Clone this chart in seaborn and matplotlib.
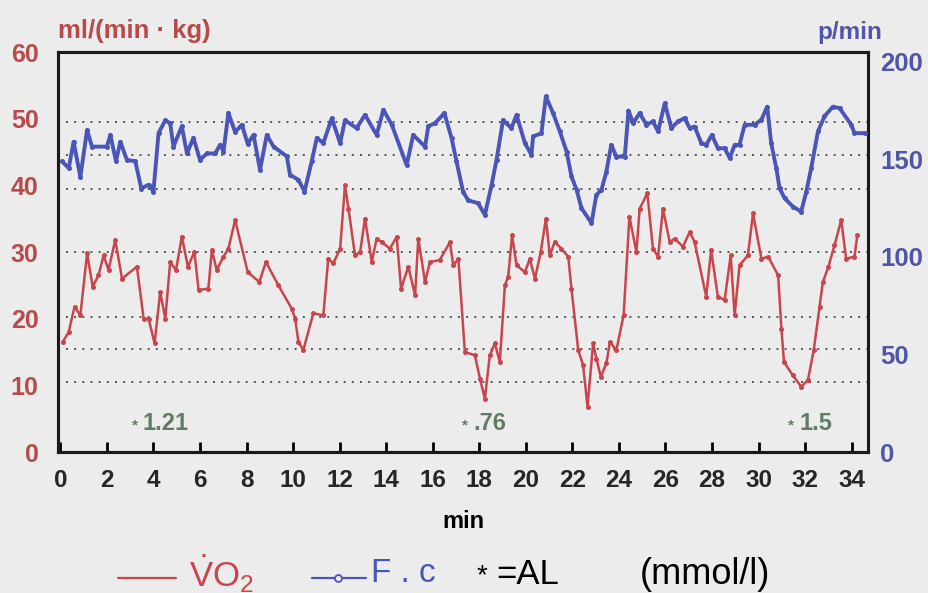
import matplotlib
matplotlib.use("Agg")
import matplotlib.pyplot as plt
import seaborn as sns
from matplotlib.lines import Line2D

# ---------------- data ----------------
vo2_min = [0.1, 0.36, 0.61, 0.86, 1.15, 1.39, 1.64, 1.86, 2.07, 2.36, 2.65, 3.29, 3.58, 3.79,
           4.05, 4.29, 4.51, 4.72, 4.97, 5.22, 5.48, 5.76, 5.94, 6.36, 6.51, 6.72, 7.01, 7.22,
           7.51, 8.05, 8.55, 8.83, 9.37, 9.94, 10.09, 10.23, 10.44, 10.87, 11.3, 11.51, 11.73,
           12.02, 12.23, 12.38, 12.66, 12.88, 13.09, 13.38, 13.59, 13.81, 14.16, 14.45, 14.64,
           14.95, 15.24, 15.38, 15.67, 15.88, 16.3, 16.74, 16.88, 17.1, 17.38, 17.81, 18.03,
           18.24, 18.45, 18.67, 18.88, 19.1, 19.24, 19.41, 19.6, 19.96, 20.17, 20.39, 20.64,
           20.86, 21.03, 21.24, 21.53, 21.82, 21.96, 22.25, 22.46, 22.65, 22.89, 23.03, 23.22,
           23.46, 23.61, 23.89, 24.2, 24.45, 24.75, 24.89, 25.22, 25.46, 25.68, 25.89, 26.18,
           26.39, 26.75, 27.04, 27.25, 27.75, 27.96, 28.25, 28.54, 28.8, 28.97, 29.18, 29.54,
           29.76, 30.12, 30.41, 30.84, 30.98, 31.09, 31.47, 31.83, 32.12, 32.37, 32.62, 32.76,
           33.0, 33.26, 33.55, 33.76, 34.12, 34.24]
vo2_val = [16.5, 18, 21.8, 20.5, 29.8, 24.8, 26.5, 29.5, 27.3, 31.8, 26, 27.8, 20, 20,
           16.3, 24, 20, 28.5, 27.3, 32.3, 27.8, 30, 24.3, 24.5, 30.3, 27.3, 29.3, 30.5,
           34.8, 27, 25.5, 28.5, 25, 21.5, 20, 16.5, 15.3, 20.8, 20.5, 29, 28.3,
           30.5, 40, 36.5, 29.5, 30, 35, 28.5, 32, 31.5, 30.5, 32.3, 24.5,
           27.8, 23.5, 32, 25.5, 28.5, 28.8, 31.5, 28, 29, 15, 14.5, 11,
           8, 14.5, 16.3, 13.5, 25, 26.3, 32.5, 28, 27, 29, 26, 30,
           35, 29.5, 31.5, 30.5, 29.3, 24.5, 15.3, 13, 6.8, 16.3, 14, 11.3,
           13.3, 16.5, 15.3, 20.5, 35.3, 30, 36.5, 38.8, 30.5, 29.3, 36.5, 31.5,
           32, 30.8, 33, 31.5, 23.3, 30.3, 23.3, 22.8, 29.5, 20.5, 28, 29.5,
           35.8, 29, 29.3, 26.5, 18.5, 13.5, 11.5, 9.8, 10.8, 15.3, 21.8, 25.5,
           27.8, 31, 34.8, 29, 29.3, 32.5]

fc_min = [0.07, 0.36, 0.57, 0.86, 1.15, 1.36, 2.0, 2.15, 2.39, 2.58, 2.86, 3.22, 3.48, 3.79,
          4.0, 4.22, 4.51, 4.72, 4.86, 5.22, 5.44, 5.72, 6.0, 6.3, 6.65, 6.87, 7.01, 7.22,
          7.51, 7.8, 8.05, 8.3, 8.58, 8.87, 9.16, 9.73, 9.87, 10.23, 10.49, 10.8, 11.02, 11.3,
          11.66, 12.02, 12.23, 12.73, 13.09, 13.59, 13.88, 14.24, 14.88, 15.16, 15.67, 15.81,
          16.1, 16.5, 16.81, 17.02, 17.3, 17.52, 17.95, 18.24, 18.53, 18.74, 19.02, 19.38,
          19.6, 19.96, 20.24, 20.31, 20.67, 20.86, 21.17, 21.46, 21.75, 21.96, 22.18, 22.39,
          22.82, 23.03, 23.25, 23.46, 23.67, 23.89, 24.25, 24.41, 24.61, 24.89, 25.18, 25.46,
          25.68, 25.97, 26.25, 26.54, 26.82, 27.04, 27.25, 27.54, 27.75, 27.99, 28.25, 28.54,
          28.76, 28.97, 29.18, 29.4, 29.83, 30.12, 30.37, 30.54, 30.76, 30.9, 31.12, 31.47,
          31.83, 32.05, 32.26, 32.55, 32.83, 33.19, 33.48, 33.98, 34.12, 34.55]
fc_val = [149, 145.5, 159, 141, 165, 156.5, 156.5, 162.5, 149, 159, 149.7, 149, 135, 137,
          133.5, 163.5, 170, 168.5, 156.5, 167, 153, 161, 149.7, 153, 153, 157.5, 154, 173.7,
          164, 167.7, 158, 162.5, 144.6, 162.5, 156.5, 151.5, 142, 139.5, 133.5, 149, 161, 158.3,
          171, 158.3, 170, 166, 172.8, 162.5, 175.4, 167.7, 147, 162.5, 156.5, 167,
          168.5, 173.7, 160.8, 149, 133.5, 129, 127.5, 121.5, 137, 149.7, 170, 166,
          172.8, 158.3, 152.3, 161.7, 163.4, 182.2, 173.7, 164.3, 154, 141.2, 134.4, 125,
          117.3, 131.8, 134.4, 143.7, 157.4, 151.4, 151.4, 175, 168.5, 173.7, 167.7, 169.4,
          164.3, 178.8, 166, 169.4, 171.1, 166, 166.8, 158.3, 157.4, 162.5, 155.7, 155.7,
          150.6, 157.4, 157.4, 167.7, 167.7, 170.3, 177, 158.3, 145.5, 135.2, 130, 125.8,
          123.2, 133.5, 145.5, 164.3, 172, 177, 176.2, 167.7, 163.4, 163.4]

x_ticks = list(range(0, 35, 2))
left_ticks = [0, 10, 20, 30, 40, 50, 60]
right_ticks = [0, 50, 100, 150, 200]
ref_lines = [49.5, 44.5, 39.5, 30, 20.3, 15.5, 10.5]
al_min = [3.2, 17.4, 31.4]
al_labels = ["1.21", ".76", "1.5"]

# ---------------- style ----------------
sns.set_theme(style="white")
plt.rcParams["font.family"] = ["Liberation Sans", "DejaVu Sans"]
plt.rcParams["mathtext.fontset"] = "custom"
plt.rcParams["mathtext.rm"] = "Liberation Sans"

BG = "#ececec"
RED = "#c9454c"
RED_LBL = "#b84a4a"
BLUE = "#4a55b8"
BLUE_LBL = "#4f56a6"
GREEN = "#5e7d62"

W, H = 929, 593
fig = plt.figure(figsize=(W / 100, H / 100), dpi=100, facecolor=BG)
L, R, T, B = 58, 868, 52, 452
ax = fig.add_axes([L / W, 1 - B / H, (R - L) / W, (B - T) / H])
ax.set_facecolor(BG)
ax2 = ax.twinx()

# reference dotted lines
for v in ref_lines:
    ax.axhline(v, xmin=0.01, xmax=1, color="#555555", lw=1.4,
               ls=(0, (1, 3.2)), zorder=1)

sns.lineplot(x=vo2_min, y=vo2_val, ax=ax, color=RED, lw=1.8, marker="o",
             markersize=3.6, markeredgewidth=0, sort=False, legend=False, zorder=3)
sns.lineplot(x=fc_min, y=fc_val, ax=ax2, color=BLUE, lw=2.8, marker="o",
             markersize=3.6, markeredgewidth=0, sort=False, legend=False, zorder=3)

ax.set_xlim(-0.1, 34.7)
ax.set_ylim(0, 60)
ax2.set_ylim(0, 205)

ax.set_xticks(x_ticks)
ax.set_xticklabels([str(t) for t in x_ticks], fontsize=17.5, fontweight="bold")
ax.set_yticks(left_ticks)
ax.set_yticklabels([str(t) for t in left_ticks], fontsize=18, fontweight="bold",
                   color=RED_LBL)
ax2.set_yticks(right_ticks)
ax2.set_yticklabels([str(t) for t in right_ticks], fontsize=18.5, fontweight="bold",
                    color=BLUE_LBL)

ax.tick_params(axis="x", direction="in", length=7, width=2, color="black",
               pad=12, bottom=True, top=False)
ax.tick_params(axis="y", length=0, pad=14)
ax2.tick_params(axis="y", length=0, pad=9)
ax.set_xlabel("")
ax.set_ylabel("")
ax2.set_ylabel("")

for a in (ax, ax2):
    for s in a.spines.values():
        s.set_visible(True)
        s.set_color("#1a1a1a")
        s.set_linewidth(2.2)

# lactate annotations
for m, lab in zip(al_min, al_labels):
    ax.text(m, 4.0, "*", color=GREEN, fontsize=11, fontweight="bold",
            ha="center", va="center")
    ax.text(m + 0.35, 4.3, lab, color=GREEN, fontsize=17, fontweight="bold",
            ha="left", va="center")

# helper for pixel-positioned texts
def ptext(x, y, s, **kw):
    fig.text(x / W, 1 - y / H, s, **kw)

ptext(58, 31, "ml/(min · kg)", color=RED_LBL, fontsize=18.5, fontweight="bold",
      ha="left", va="center")
ptext(882, 33, "p/min", color=BLUE_LBL, fontsize=17.5, fontweight="bold",
      ha="right", va="center")
ptext(463, 522, "min", color="black", fontsize=17, fontweight="bold",
      ha="center", va="center")

# legend (drawn manually)
LY = 1 - 578 / H
fig.add_artist(Line2D([118 / W, 176 / W], [LY, LY], color=RED, lw=1.6))
ptext(189, 574, r"$\dot{\mathrm{V}}\mathrm{O}_2$", color=RED, fontsize=25,
      ha="left", va="center")
fig.add_artist(Line2D([312 / W, 366 / W], [LY, LY], color=BLUE, lw=1.6))
fig.add_artist(Line2D([338 / W], [LY], color=BLUE, marker="o",
                      markersize=5, markerfacecolor=BG, markeredgewidth=1.3, lw=0))
ptext(371, 574, "F . c", color=BLUE, fontsize=24, ha="left", va="center")
ptext(477, 576, "*", color="black", fontsize=20, ha="left", va="center")
ptext(496, 574, "=AL", color="black", fontsize=25, ha="left", va="center")
ptext(640, 574, "(mmol/l)", color="black", fontsize=26, ha="left", va="center")

fig.savefig("out.png", dpi=100, facecolor=BG)
